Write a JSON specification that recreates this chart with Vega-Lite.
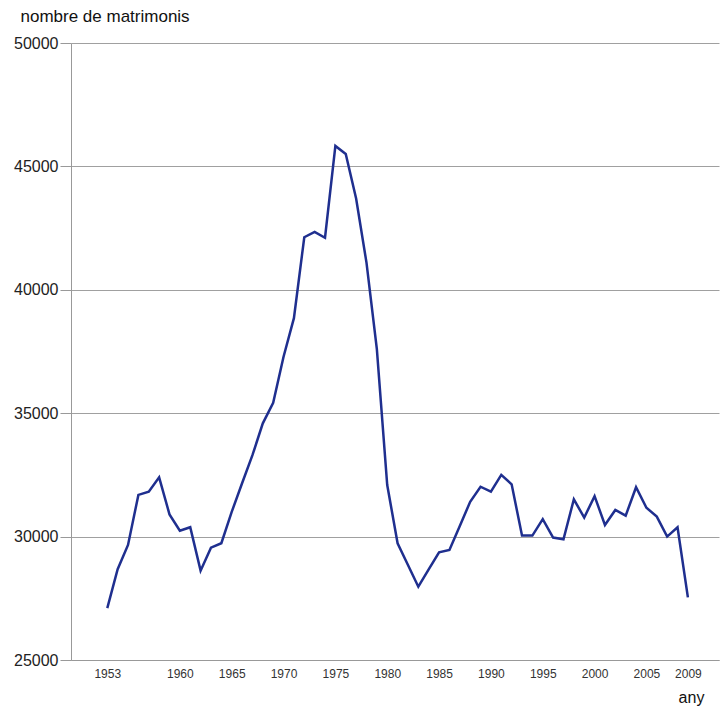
{
  "$schema": "https://vega.github.io/schema/vega-lite/v6.json",
  "width": 648,
  "height": 617,
  "autosize": "none",
  "padding": {"left": 71, "top": 43, "right": 9, "bottom": 49},
  "background": "white",
  "config": {
    "view": {"stroke": null},
    "font": "Liberation Sans"
  },
  "data": {
    "values": [
      {"any": 1953, "matrimonis": 27100},
      {"any": 1954, "matrimonis": 28680},
      {"any": 1955, "matrimonis": 29660},
      {"any": 1956, "matrimonis": 31690},
      {"any": 1957, "matrimonis": 31820},
      {"any": 1958, "matrimonis": 32400},
      {"any": 1959, "matrimonis": 30900},
      {"any": 1960, "matrimonis": 30240},
      {"any": 1961, "matrimonis": 30380},
      {"any": 1962, "matrimonis": 28620},
      {"any": 1963, "matrimonis": 29550},
      {"any": 1964, "matrimonis": 29730},
      {"any": 1965, "matrimonis": 31000},
      {"any": 1966, "matrimonis": 32160},
      {"any": 1967, "matrimonis": 33300},
      {"any": 1968, "matrimonis": 34590},
      {"any": 1969, "matrimonis": 35420},
      {"any": 1970, "matrimonis": 37290},
      {"any": 1971, "matrimonis": 38850},
      {"any": 1972, "matrimonis": 42130},
      {"any": 1973, "matrimonis": 42350},
      {"any": 1974, "matrimonis": 42110},
      {"any": 1975, "matrimonis": 45830},
      {"any": 1976, "matrimonis": 45500},
      {"any": 1977, "matrimonis": 43700},
      {"any": 1978, "matrimonis": 41100},
      {"any": 1979, "matrimonis": 37600},
      {"any": 1980, "matrimonis": 32090},
      {"any": 1981, "matrimonis": 29730},
      {"any": 1982, "matrimonis": 28850},
      {"any": 1983, "matrimonis": 27970},
      {"any": 1984, "matrimonis": 28670},
      {"any": 1985, "matrimonis": 29360},
      {"any": 1986, "matrimonis": 29460},
      {"any": 1987, "matrimonis": 30430},
      {"any": 1988, "matrimonis": 31410},
      {"any": 1989, "matrimonis": 32020},
      {"any": 1990, "matrimonis": 31820},
      {"any": 1991, "matrimonis": 32500},
      {"any": 1992, "matrimonis": 32120},
      {"any": 1993, "matrimonis": 30040},
      {"any": 1994, "matrimonis": 30040},
      {"any": 1995, "matrimonis": 30710},
      {"any": 1996, "matrimonis": 29960},
      {"any": 1997, "matrimonis": 29890},
      {"any": 1998, "matrimonis": 31510},
      {"any": 1999, "matrimonis": 30770},
      {"any": 2000, "matrimonis": 31640},
      {"any": 2001, "matrimonis": 30470},
      {"any": 2002, "matrimonis": 31080},
      {"any": 2003, "matrimonis": 30850},
      {"any": 2004, "matrimonis": 32000},
      {"any": 2005, "matrimonis": 31170},
      {"any": 2006, "matrimonis": 30810},
      {"any": 2007, "matrimonis": 30000},
      {"any": 2008, "matrimonis": 30380},
      {"any": 2009, "matrimonis": 27540}
    ]
  },
  "mark": {"type": "line", "color": "#1f2f8f", "strokeWidth": 2.5, "strokeJoin": "miter"},
  "encoding": {
    "x": {
      "field": "any",
      "type": "quantitative",
      "scale": {"domain": [1949.5, 2012], "nice": false, "zero": false},
      "axis": {
        "title": "any",
        "values": [1953, 1960, 1965, 1970, 1975, 1980, 1985, 1990, 1995, 2000, 2005, 2009],
        "format": "d",
        "grid": false,
        "domain": true,
        "domainColor": "#999999",
        "domainWidth": 1,
        "ticks": false,
        "labelPadding": 8,
        "labelFontSize": 12,
        "labelColor": "#333333",
        "labelFont": "Liberation Sans",
        "titleFontSize": 16,
        "titleFontWeight": "normal",
        "titleColor": "#111111",
        "titleAnchor": "start",
        "titleAlign": "center",
        "titleBaseline": "alphabetic",
        "titleX": 620,
        "titleY": 42
      }
    },
    "y": {
      "field": "matrimonis",
      "type": "quantitative",
      "scale": {"domain": [25000, 50000], "nice": false, "zero": false},
      "axis": {
        "title": "nombre de matrimonis",
        "values": [25000, 30000, 35000, 40000, 45000, 50000],
        "format": "d",
        "grid": true,
        "gridColor": "#a0a0a0",
        "gridWidth": 1,
        "domain": true,
        "domainColor": "#999999",
        "domainWidth": 1,
        "ticks": true,
        "tickSize": 11,
        "tickColor": "#999999",
        "labelPadding": 2,
        "labelFontSize": 16,
        "labelColor": "#222222",
        "titleFontSize": 17,
        "titleFontWeight": "normal",
        "titleColor": "#111111",
        "titleAngle": 0,
        "titleAlign": "left",
        "titleBaseline": "alphabetic",
        "titleAnchor": "start",
        "titleX": -51,
        "titleY": -22
      }
    }
  }
}
